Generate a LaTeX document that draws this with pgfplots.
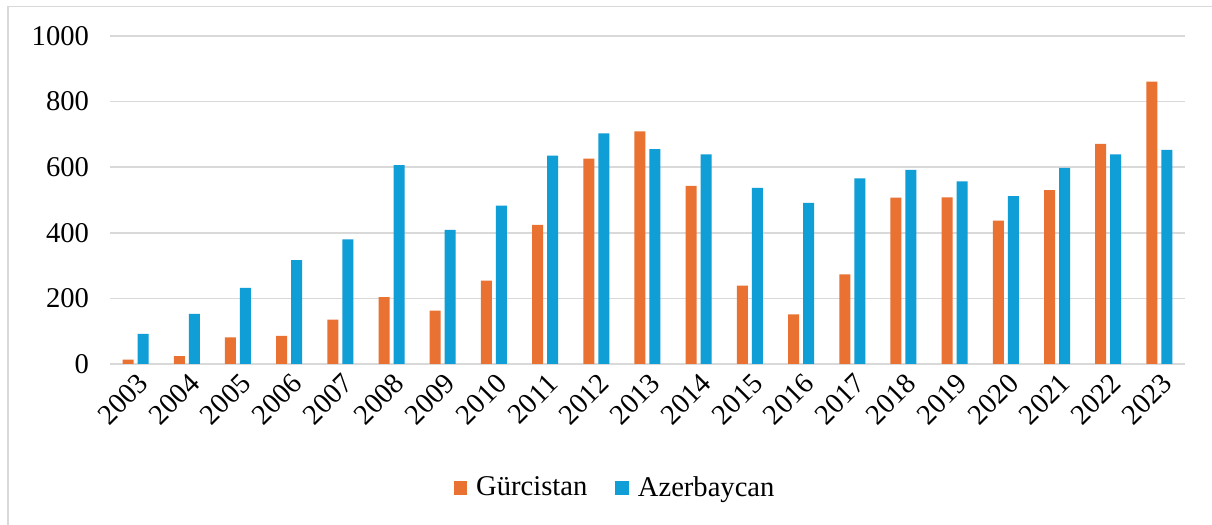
\documentclass[border=0pt]{standalone}
\usepackage{fontspec}
\setmainfont{Liberation Serif}
\usepackage{pgfplots}
\pgfplotsset{compat=1.18}
\definecolor{gurc}{HTML}{E97132}
\definecolor{azer}{HTML}{0F9ED5}
\definecolor{gridc}{HTML}{D9D9D9}
\definecolor{framec}{HTML}{D9D9D9}
\begin{document}
\begin{tikzpicture}
\path[use as bounding box, fill=white] (0pt,0pt) rectangle (606pt,262.5pt);
\draw[framec, line width=0.75pt] (4pt,0pt) -- (4pt,259.25pt) -- (606pt,259.25pt);
\begin{axis}[
  at={(55pt,80.5pt)}, anchor=south west,
  scale only axis, width=537.5pt, height=164pt,
  ybar=2pt, bar width=5.5pt,
  xmin=-0.5, xmax=20.5, ymin=0, ymax=1000,
  xtick={0,...,20},
  xticklabels={2003,2004,2005,2006,2007,2008,2009,2010,2011,2012,2013,2014,2015,2016,2017,2018,2019,2020,2021,2022,2023},
  ytick={0,200,400,600,800,1000},
  ymajorgrids, grid style={gridc, line width=0.75pt},
  axis line style={draw=none}, tick style={draw=none},
  /pgf/number format/assume math mode=true,
  /pgf/number format/1000 sep={},
  ticklabel style={font=\fontsize{14.3}{17}\selectfont},
  yticklabel style={xshift=-7pt},
  xticklabel style={rotate=45, anchor=east, xshift=4pt, yshift=-5pt},
  legend style={at={(0.4707,-0.378)}, anchor=center, draw=none, fill=none,
    font=\fontsize{14.3}{17}\selectfont, legend columns=2,
    /tikz/every odd column/.append style={column sep=2.5pt},
    /tikz/every even column/.append style={column sep=12pt}},
  legend image code/.code={\fill[#1] (0pt,-3.4pt) rectangle (6.8pt,3.4pt);},
]
\addplot[fill=gurc, draw=none] coordinates {
 (0,13) (1,24) (2,81) (3,86) (4,135) (5,204) (6,163) (7,254) (8,424) (9,626)
 (10,709) (11,543) (12,239) (13,151) (14,273) (15,507) (16,508) (17,437) (18,530) (19,671) (20,861)};
\addlegendentry{Gürcistan}
\addplot[fill=azer, draw=none] coordinates {
 (0,92) (1,153) (2,232) (3,317) (4,380) (5,606) (6,409) (7,483) (8,635) (9,703)
 (10,655) (11,639) (12,537) (13,491) (14,566) (15,592) (16,557) (17,512) (18,598) (19,639) (20,653)};
\addlegendentry{Azerbaycan}
\end{axis}
\end{tikzpicture}
\end{document}
